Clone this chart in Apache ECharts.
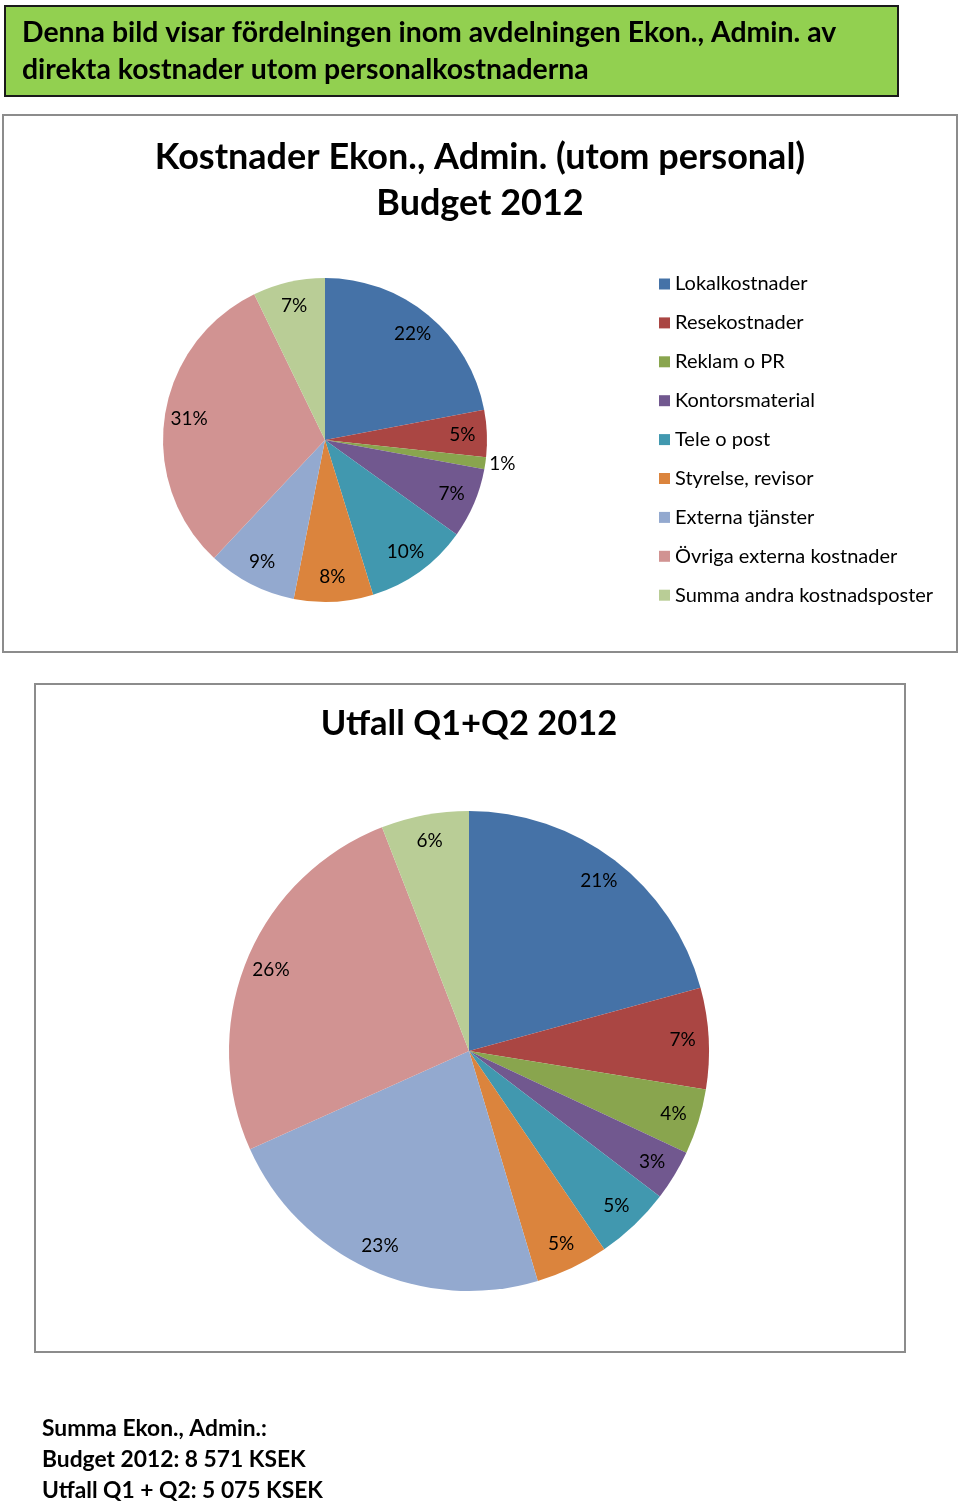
<!DOCTYPE html>
<html>
<head>
<meta charset="utf-8">
<script src="https://cdn.jsdelivr.net/npm/echarts@6/dist/echarts.min.js"></script>
<style>
html,body{margin:0;padding:0;background:#fff;}
#c{width:960px;height:1504px;}
</style>
</head>
<body>
<div id="c"></div>
<script>
var categories = ['Lokalkostnader','Resekostnader','Reklam o PR','Kontorsmaterial','Tele o post','Styrelse, revisor','Externa tjänster','Övriga externa kostnader','Summa andra kostnadsposter'];
var budgetValues = [22.0, 4.7, 1.2, 7.0, 10.3, 7.9, 8.9, 30.8, 7.2];
var utfallValues = [20.75, 6.8, 4.4, 3.4, 5.1, 4.9, 22.9, 25.8, 5.9];
var colors = ['#4572A7','#AA4643','#89A54E','#71588F','#4198AF','#DB843D','#93A9CF','#D19392','#B9CD96'];
var headerLines = ['Denna bild visar fördelningen inom avdelningen Ekon., Admin. av','direkta kostnader utom personalkostnaderna'];
var title1 = ['Kostnader Ekon., Admin. (utom personal)','Budget 2012'];
var title2 = 'Utfall Q1+Q2 2012';
var summaryLines = ['Summa Ekon., Admin.:','Budget 2012: 8 571 KSEK','Utfall Q1 + Q2: 5 075 KSEK'];

var FONT = 'Lato';
var chart = echarts.init(document.getElementById('c'), null, {renderer:'canvas'});

function mkData(vals){
  return categories.map(function(n,i){ return {name:n, value:vals[i], itemStyle:{color:colors[i]}}; });
}
function pctFmt(p){ return Math.round(p.percent) + '%'; }

var labelData1 = budgetValues.map(function(v,i){
  var d = {name:categories[i], value:v};
  if (i === 2) {
    d.label = {position:'outside', distanceToLabelLine:0};
    d.labelLine = {show:false, length:4, length2:0};
  }
  return d;
});
var labelData2 = utfallValues.map(function(v,i){ return {name:categories[i], value:v}; });

var option = {
  animation:false,
  color: colors,
  title: [
    {text: title1.join('\n'), left: 480, top: 134, textAlign:'center', padding:0,
     textStyle:{fontFamily:FONT, fontWeight:'bold', fontSize:36, lineHeight:46, color:'#000'}},
    {text: title2, left: 469, top: 706, textAlign:'center', padding:0,
     textStyle:{fontFamily:FONT, fontWeight:'bold', fontSize:34.5, lineHeight:36, color:'#000'}}
  ],
  legend: {
    orient:'vertical', left: 659, top: 274, padding:0,
    itemWidth: 11, itemHeight: 11, itemGap: 18.9,
    icon:'rect',
    data: categories,
    textStyle:{fontFamily:FONT, fontSize:20, lineHeight:20, color:'#000'},
    selectedMode:false
  },
  graphic: [
    {type:'rect', shape:{x:5, y:6, width:893, height:90}, style:{fill:'#92D050', stroke:'#1a1a1a', lineWidth:2}, z:0},
    {type:'text', left:22, top:14, style:{text:headerLines.join('\n'), font:'bold 28.4px '+FONT, lineHeight:37, fill:'#000'}},
    {type:'rect', shape:{x:3, y:115, width:954, height:537}, style:{fill:'none', stroke:'#8c8c8c', lineWidth:2}, z:-1},
    {type:'rect', shape:{x:35, y:684, width:870, height:668}, style:{fill:'none', stroke:'#8c8c8c', lineWidth:2}, z:-1},
    {type:'text', left:42, top:1413, style:{text:summaryLines.join('\n'), font:'bold 22.8px '+FONT, lineHeight:31, fill:'#000'}}
  ],
  series: [
    {type:'pie', name:'Budget 2012', center:[325,440], radius:[0,162], startAngle:90, clockwise:true,
     data: mkData(budgetValues), label:{show:false}, labelLine:{show:false}, silent:true,
     itemStyle:{borderWidth:0}},
    {type:'pie', name:'Budget labels', center:[325,440], radius:[107,162], startAngle:90, clockwise:true,
     data: labelData1, silent:true, avoidLabelOverlap:false, legendHoverLink:false,
     itemStyle:{color:'rgba(0,0,0,0)', borderWidth:0},
     label:{show:true, position:'inside', formatter:pctFmt, fontFamily:FONT, fontSize:19, color:'#000'},
     labelLine:{show:false}},
    {type:'pie', name:'Utfall Q1+Q2 2012', center:[469,1051], radius:[0,240], startAngle:90, clockwise:true,
     data: mkData(utfallValues), label:{show:false}, labelLine:{show:false}, silent:true,
     itemStyle:{borderWidth:0}},
    {type:'pie', name:'Utfall labels', center:[469,1051], radius:[182,240], startAngle:90, clockwise:true,
     data: labelData2, silent:true, avoidLabelOverlap:false, legendHoverLink:false,
     itemStyle:{color:'rgba(0,0,0,0)', borderWidth:0},
     label:{show:true, position:'inside', formatter:pctFmt, fontFamily:FONT, fontSize:19, color:'#000'},
     labelLine:{show:false}}
  ]
};
chart.setOption(option);
</script>
</body>
</html>
